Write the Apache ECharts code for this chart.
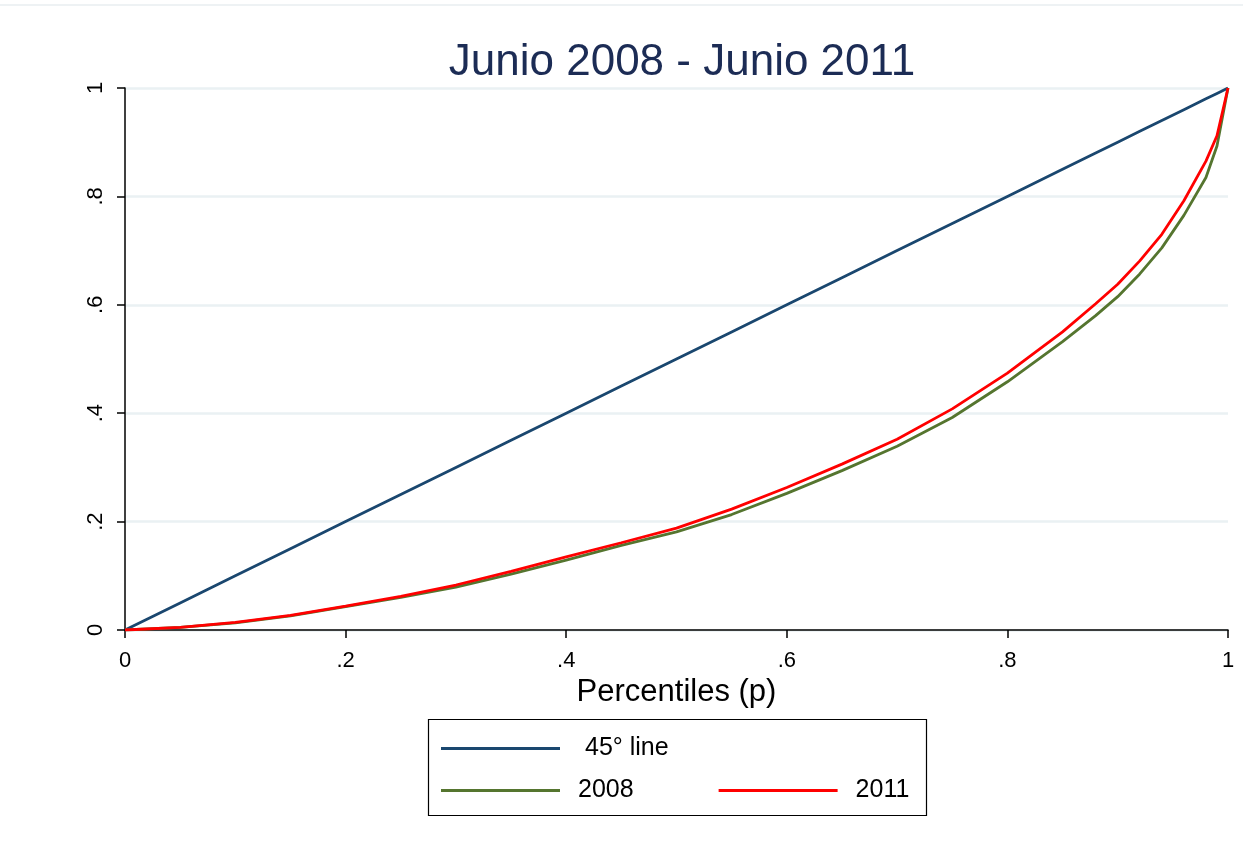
<!DOCTYPE html>
<html>
<head>
<meta charset="utf-8">
<script src="https://cdn.jsdelivr.net/npm/echarts@6/dist/echarts.min.js"></script>
<style>
html,body{margin:0;padding:0;background:#fff;}
#chart{width:1243px;height:852px;}
</style>
</head>
<body>
<div id="chart"></div>
<script>
const titleText = 'Junio 2008 - Junio 2011';
const xTicks = [0, 0.2, 0.4, 0.6, 0.8, 1];
const percentiles = [0, 0.05, 0.1, 0.15, 0.2, 0.25, 0.3, 0.35, 0.4, 0.45, 0.5, 0.55, 0.6, 0.65, 0.7, 0.75, 0.8, 0.85, 0.88, 0.9, 0.92, 0.94, 0.96, 0.98, 0.99, 1];
const line45 = [0, 0.05, 0.1, 0.15, 0.2, 0.25, 0.3, 0.35, 0.4, 0.45, 0.5, 0.55, 0.6, 0.65, 0.7, 0.75, 0.8, 0.85, 0.88, 0.9, 0.92, 0.94, 0.96, 0.98, 0.99, 1];
const lorenz2008 = [0, 0.005, 0.013, 0.026, 0.043, 0.060, 0.079, 0.103, 0.129, 0.156, 0.181, 0.213, 0.252, 0.294, 0.339, 0.392, 0.458, 0.532, 0.580, 0.615, 0.657, 0.705, 0.765, 0.835, 0.893, 1];
const lorenz2011 = [0, 0.005, 0.014, 0.027, 0.044, 0.062, 0.083, 0.108, 0.135, 0.161, 0.188, 0.223, 0.263, 0.306, 0.352, 0.408, 0.474, 0.550, 0.602, 0.638, 0.681, 0.730, 0.792, 0.865, 0.912, 1];
const seriesNames = ['45° line', '2008', '2011'];

const pairs = (ys) => percentiles.map((p, i) => [p, ys[i]]);
const fmt = (v) => {
  if (v === 0) return '0';
  if (Math.abs(v - 1) < 1e-9) return '1';
  return '.' + Math.round(v * 10);
};

const chart = echarts.init(document.getElementById('chart'));
const FONT = 'Liberation Sans, Arial, sans-serif';
chart.setOption({
  backgroundColor: '#fff',
  animation: false,
  title: {
    text: titleText,
    left: 677, top: 36, textAlign: 'center',
    textStyle: {fontFamily: FONT, fontSize: 44, fontWeight: 'normal', color: '#1c2c55'}
  },
  grid: {left: 125, right: 15, top: 88, bottom: 222, containLabel: false},
  xAxis: {
    type: 'value', min: 0, max: 1, interval: 0.2,
    name: 'Percentiles (p)', nameLocation: 'middle', nameGap: 40,
    nameTextStyle: {fontFamily: FONT, fontSize: 31, color: '#000'},
    axisLine: {show: true, onZero: false, lineStyle: {color: '#000', width: 1.5}},
    axisTick: {show: true, length: 8, lineStyle: {color: '#000', width: 1.5}},
    axisLabel: {formatter: fmt, fontFamily: FONT, fontSize: 22, color: '#000', margin: 20},
    splitLine: {show: false}
  },
  yAxis: {
    type: 'value', min: 0, max: 1, interval: 0.2,
    axisLine: {show: true, onZero: false, lineStyle: {color: '#000', width: 1.5}},
    axisTick: {show: true, length: 8, lineStyle: {color: '#000', width: 1.5}},
    axisLabel: {formatter: fmt, fontFamily: FONT, fontSize: 22, color: '#000', margin: 18, rotate: 90},
    splitLine: {show: true, lineStyle: {color: '#eaf1f3', width: 2.5}}
  },
  legend: [
    {
      data: [seriesNames[0]], left: 441, top: 736, orient: 'horizontal', padding: 0,
      itemWidth: 119, itemHeight: 3, itemGap: 60, icon: 'rect',
      textStyle: {fontFamily: FONT, fontSize: 25, color: '#000', padding: [0, 0, 0, 20]}
    },
    {
      data: [seriesNames[1], seriesNames[2]], left: 441, top: 778, orient: 'horizontal', padding: 0,
      itemWidth: 119, itemHeight: 3, itemGap: 85, icon: 'rect',
      textStyle: {fontFamily: FONT, fontSize: 25, color: '#000', padding: [0, 0, 0, 13]}
    }
  ],
  graphic: [
    {type: 'rect', shape: {x: 428.5, y: 719.5, width: 498, height: 96}, style: {fill: 'none', stroke: '#000', lineWidth: 1.2}, z: -1},
    {type: 'line', shape: {x1: 0, y1: 5, x2: 1243, y2: 5}, style: {stroke: '#eef2f4', lineWidth: 2}}
  ],
  series: [
    {name: seriesNames[0], type: 'line', data: pairs(line45), symbol: 'none', lineStyle: {color: '#1a476f', width: 2.8}, itemStyle: {color: '#1a476f'}, z: 3},
    {name: seriesNames[1], type: 'line', data: pairs(lorenz2008), symbol: 'none', lineStyle: {color: '#55752f', width: 2.8}, itemStyle: {color: '#55752f'}, z: 4},
    {name: seriesNames[2], type: 'line', data: pairs(lorenz2011), symbol: 'none', lineStyle: {color: '#ff0000', width: 2.8}, itemStyle: {color: '#ff0000'}, z: 5}
  ]
});
</script>
</body>
</html>
